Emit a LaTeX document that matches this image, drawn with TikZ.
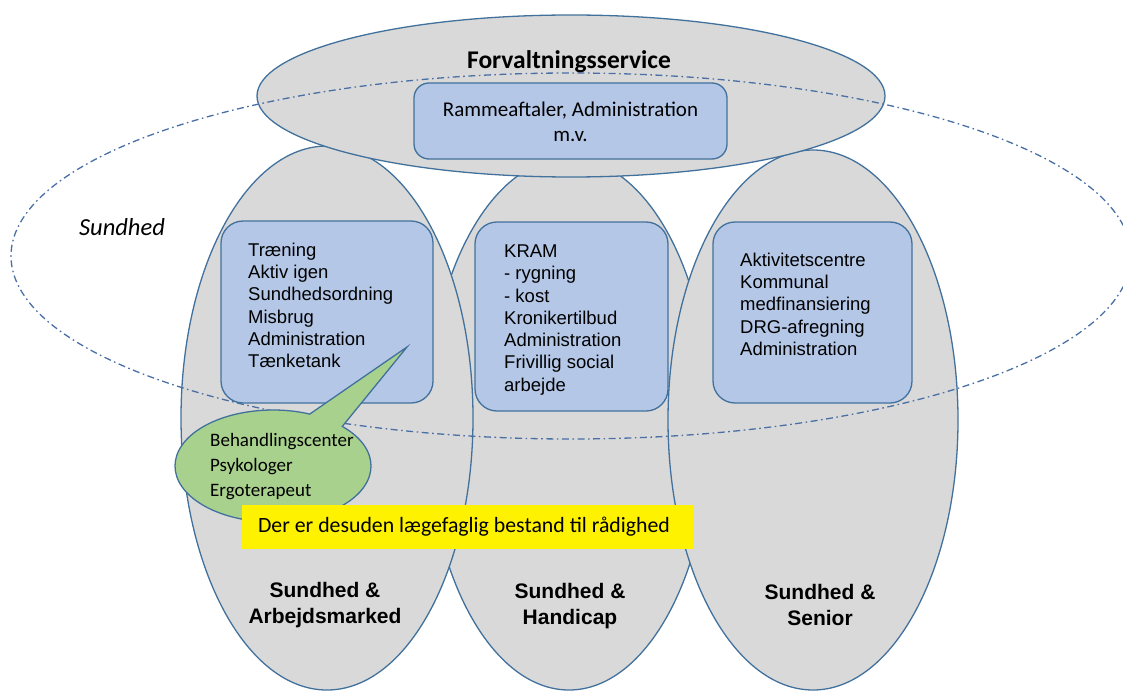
\documentclass[tikz,border=0pt]{standalone}
\usepackage{fontspec}
\setmainfont{Liberation Sans}
\newfontfamily\calib{Carlito}
\usetikzlibrary{shapes.geometric}
\definecolor{edgeblue}{HTML}{41719C}
\definecolor{grayfill}{HTML}{D9D9D9}
\definecolor{boxblue}{HTML}{B4C7E7}
\definecolor{greenfill}{HTML}{A9D18E}
\definecolor{dashblue}{HTML}{4A6FA5}
\begin{document}
\begin{tikzpicture}[x=1pt,y=-1pt,
  bigell/.style={ellipse, draw=edgeblue, fill=grayfill, line width=1.3pt, inner sep=0pt},
  bluebox/.style={rectangle, draw=edgeblue, fill=boxblue, line width=1.3pt, rounded corners=22pt, inner sep=0pt},
  listtext/.style={anchor=north west, inner sep=0pt, align=left, font=\fontsize{18.5}{22.3}\selectfont},
  boldlabel/.style={inner sep=0pt, align=center, font=\fontsize{21}{26}\selectfont\bfseries}]
\useasboundingbox (0,0) rectangle (1123,695);
\clip (0,0) rectangle (1123,695);
% big ellipses
\node[bigell, minimum width=284pt, minimum height=532pt] (handicap) at (569,424) {};
\node[bigell, minimum width=292pt, minimum height=544pt] (arbejde) at (327,418) {};
\node[bigell, minimum width=290pt, minimum height=540pt] (senior) at (813,420) {};
\node[bigell, minimum width=628pt, minimum height=162pt] (forv) at (571,96) {};
% Sundhed dash-dot ellipse
\node[ellipse, draw=dashblue, line width=1.3pt, dash pattern=on 7pt off 3.5pt on 1.6pt off 3.5pt,
      minimum width=1120pt, minimum height=366pt, inner sep=0pt] (sundhedring) at (571,256) {};
% blue boxes
\node[bluebox, rounded corners=15pt, minimum width=313pt, minimum height=76pt] (rammebox) at (570.5,121) {};
\node[bluebox, minimum width=212pt, minimum height=182pt] (arbbox) at (327,312) {};
\node[bluebox, minimum width=193pt, minimum height=189pt] (hanbox) at (571.5,316.5) {};
\node[bluebox, minimum width=199pt, minimum height=181pt] (senbox) at (812.5,312.5) {};
% green callout
\coordinate (calloutstart) at (342.3,426.4);
\coordinate (callouttip) at (407,347);
\draw[draw=edgeblue, fill=greenfill, line width=1.3pt]
  (calloutstart) arc[start angle=-45, end angle=292, x radius=98, y radius=56]
  -- (callouttip) -- cycle;
% yellow box
\node[rectangle, fill=yellow, minimum width=451pt, minimum height=44pt, inner sep=0pt] (gulbox) at (467.5,527) {};
% texts
\node[inner sep=0pt, font=\calib\fontsize{25.5}{30}\selectfont\bfseries] (forvtxt) at (569,62) {Forvaltningsservice};
\node[inner sep=0pt, align=center, font=\calib\fontsize{21}{25}\selectfont] (rammetxt) at (570.5,122) {Rammeaftaler, Administration\\m.v.};
\node[inner sep=0pt, font=\calib\fontsize{24.5}{28}\selectfont\itshape] (sundtxt) at (122,227) {Sundhed};
\node[listtext] (arbtxt) at (248,242.5) {Træning\\Aktiv igen\\Sundhedsordning\\Misbrug\\Administration\\Tænketank};
\node[listtext] (hantxt) at (504,244.5) {KRAM\\- rygning\\- kost\\Kronikertilbud\\Administration\\Frivillig social\\arbejde};
\node[listtext] (sentxt) at (740,252.5) {Aktivitetscentre\\Kommunal\\medfinansiering\\DRG-afregning\\Administration};
\node[anchor=north west, inner sep=0pt, align=left, font=\calib\fontsize{19}{25}\selectfont] (grontxt) at (210,433) {Behandlingscenter\\Psykologer\\Ergoterapeut};
\node[inner sep=0pt, font=\calib\fontsize{21.8}{25}\selectfont] (gultxt) at (464,527) {Der er desuden lægefaglig bestand til rådighed};
\node[boldlabel] (arblbl) at (325,605) {Sundhed \&\\Arbejdsmarked};
\node[boldlabel] (hanlbl) at (570,606) {Sundhed \&\\Handicap};
\node[boldlabel] (senlbl) at (820,605) {Sundhed \&\\Senior};
\end{tikzpicture}
\end{document}
